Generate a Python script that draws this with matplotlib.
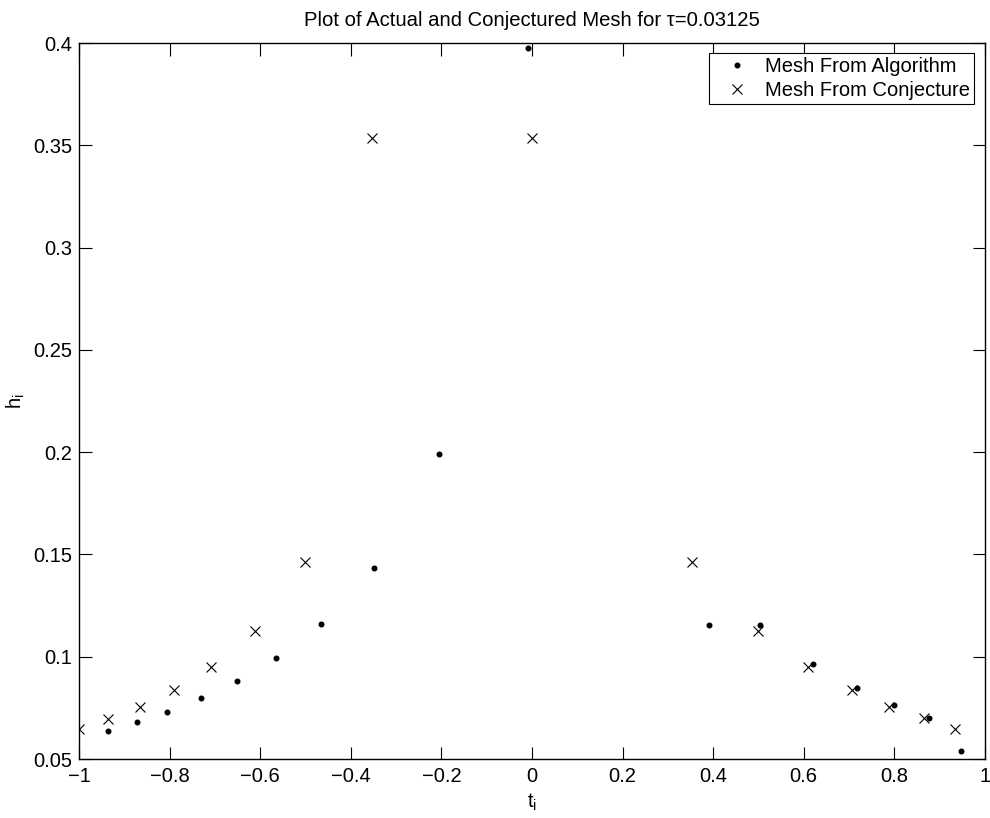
import matplotlib
matplotlib.use("Agg")
import matplotlib.pyplot as plt

plt.rcParams['font.family'] = ['Liberation Sans', 'DejaVu Sans']
plt.rcParams['mathtext.default'] = 'regular'
plt.rcParams['font.size'] = 14.5

# mesh points produced by the adaptive algorithm
t_alg = [-0.935, -0.872, -0.805, -0.731, -0.652, -0.564, -0.465, -0.3495, -0.206, -0.008,
         0.390, 0.504, 0.620, 0.717, 0.800, 0.876, 0.9465]
h_alg = [0.0637, 0.0679, 0.0731, 0.0797, 0.0880, 0.0992, 0.1160, 0.1432, 0.1991, 0.3974,
         0.1155, 0.1155, 0.0964, 0.0845, 0.0762, 0.0699, 0.0538]

# mesh points from the conjectured formula
t_conj = [-1.0, -0.935, -0.866, -0.791, -0.708, -0.612, -0.5007, -0.354, 0.0,
          0.354, 0.4985, 0.610, 0.7056, 0.789, 0.865, 0.934]
h_conj = [0.0645, 0.0696, 0.0756, 0.0837, 0.0948, 0.1124, 0.1464, 0.3537, 0.3537,
          0.1464, 0.1126, 0.0948, 0.0837, 0.0756, 0.0699, 0.0648]

xticks = [-1, -0.8, -0.6, -0.4, -0.2, 0, 0.2, 0.4, 0.6, 0.8, 1]
yticks = [0.05, 0.1, 0.15, 0.2, 0.25, 0.3, 0.35, 0.4]

fig = plt.figure(figsize=(9.9, 8.18), dpi=100)
ax = fig.add_axes([0.0798, 0.0721, 0.915, 0.8753])

ax.plot(t_alg, h_alg, 'o', color='black', markersize=3.3, linestyle='none',
        label='Mesh From Algorithm')
ax.plot(t_conj, h_conj, 'x', color='black', markersize=7, markeredgewidth=0.8,
        linestyle='none', label='Mesh From Conjecture')

ax.set_xlim(-1, 1)
ax.set_ylim(0.05, 0.4)
ax.set_xticks(xticks)
ax.set_xticklabels(['\u22121', '\u22120.8', '\u22120.6', '\u22120.4', '\u22120.2',
                    '0', '0.2', '0.4', '0.6', '0.8', '1'])
ax.set_yticks(yticks)
ax.set_yticklabels(['0.05', '0.1', '0.15', '0.2', '0.25', '0.3', '0.35', '0.4'])
ax.tick_params(direction='in', length=9, width=0.8, top=True, right=True)
ax.tick_params(axis='x', pad=6)
ax.tick_params(axis='y', pad=5)
for s in ax.spines.values():
    s.set_linewidth(1.0)

ax.set_xlabel('$t_i$', labelpad=4)
ax.set_ylabel('$h_i$', labelpad=4)
ax.set_title('Plot of Actual and Conjectured Mesh for \u03c4=0.03125', fontsize=14.6, pad=12)

leg = ax.legend(loc='upper right', bbox_to_anchor=(0.988, 0.986), borderaxespad=0,
                fancybox=False, edgecolor='black', framealpha=1,
                handlelength=2.4, handletextpad=0.2, borderpad=0.2,
                labelspacing=0.25)
leg.get_frame().set_linewidth(0.8)

fig.savefig('out.png', dpi=100)
